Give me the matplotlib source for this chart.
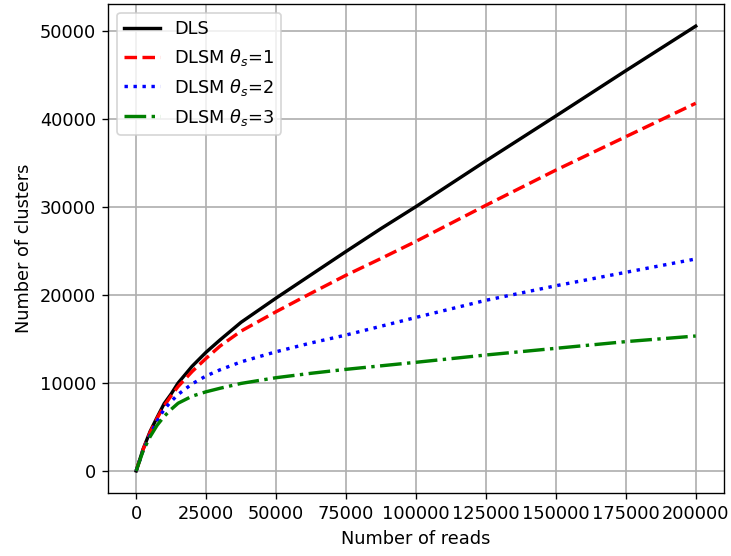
import matplotlib
matplotlib.use("Agg")
import matplotlib.pyplot as plt

plt.rcParams["font.size"] = 10.5

# reads (x) and cluster counts
reads = [0, 2500, 5000, 7500, 10000, 12500, 15000, 20000, 25000, 30000, 37500,
         50000, 62500, 75000, 87500, 100000, 125000, 150000, 175000, 200000]

dls = [0, 2500, 4500, 6100, 7650, 8750, 10000, 11900, 13500, 14900, 16900,
       19650, 22300, 24950, 27550, 30050, 35250, 40350, 45500, 50570]
dlsm_1 = [0, 2450, 4400, 6000, 7400, 8550, 9600, 11300, 12800, 14200, 15900,
          18100, 20200, 22250, 24150, 26100, 30200, 34200, 38000, 41800]
dlsm_2 = [0, 2350, 4100, 5700, 7000, 7900, 8700, 9900, 10800, 11500, 12400,
          13550, 14550, 15450, 16450, 17450, 19400, 21050, 22580, 24100]
dlsm_3 = [0, 2300, 3900, 5200, 6200, 7000, 7700, 8500, 9000, 9400, 9950,
          10600, 11100, 11550, 11950, 12350, 13180, 13940, 14700, 15340]

fig = plt.figure(figsize=(731 / 122, 556 / 122), dpi=122)
ax = fig.add_axes([0.148, 0.113, 0.842, 0.880])

ax.plot(reads, dls, color="black", linestyle="-", linewidth=2, label="DLS")
ax.plot(reads, dlsm_1, color="red", linestyle="--", linewidth=2, label=r"DLSM $\theta_s$=1")
ax.plot(reads, dlsm_2, color="blue", linestyle=":", linewidth=2, label=r"DLSM $\theta_s$=2")
ax.plot(reads, dlsm_3, color="green", linestyle="-.", linewidth=2, label=r"DLSM $\theta_s$=3")

ax.set_xlabel("Number of reads")
ax.set_ylabel("Number of clusters")
ax.set_xticks([0, 25000, 50000, 75000, 100000, 125000, 150000, 175000, 200000])
ax.grid(True, linewidth=1)
ax.legend(loc="upper left")

plt.savefig("out.png", dpi=122)
plt.close()
